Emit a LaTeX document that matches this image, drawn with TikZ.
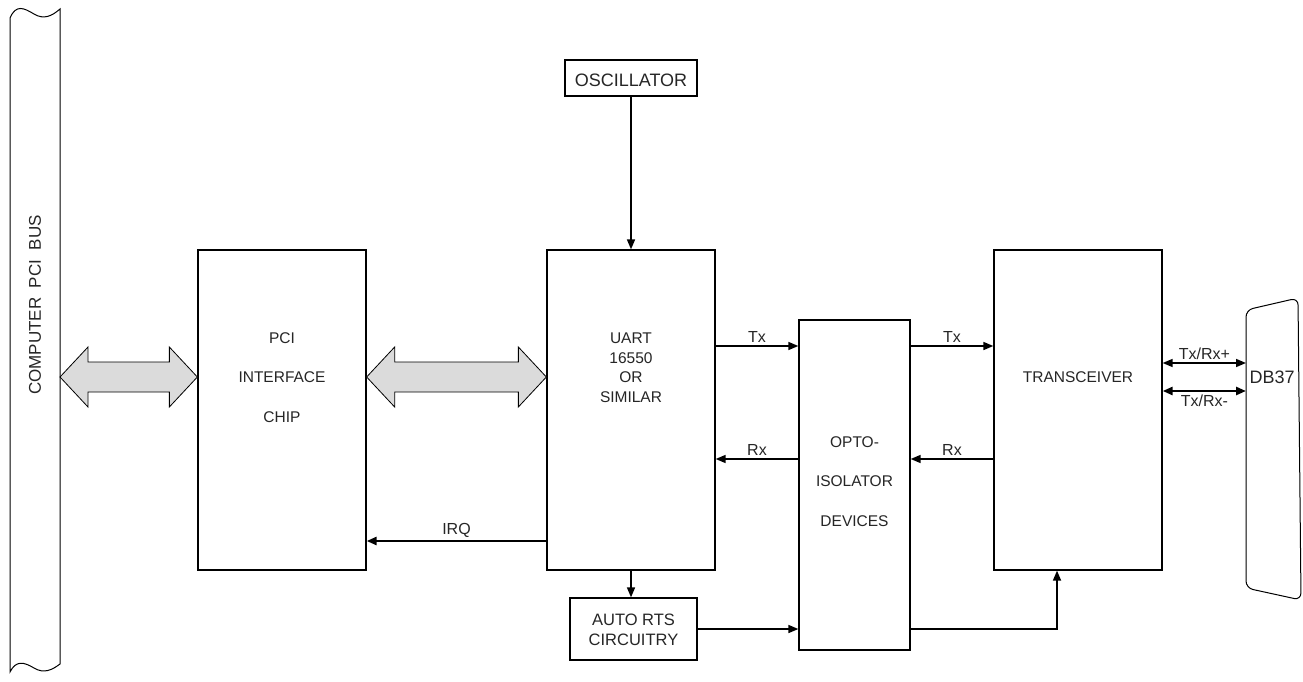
\documentclass[tikz,border=0pt]{standalone}
\usepackage{fontspec}
\setmainfont{Liberation Sans}
\usetikzlibrary{arrows.meta,calc}
\tikzset{
  box/.style={draw, line width=1.3pt, inner sep=0pt, fill=white},
  ghost/.style={inner sep=0pt, outer sep=0pt},
  txt/.style={inner sep=0pt, font=\fontsize{15.5}{18}\selectfont, text=black!85},
  bigtxt/.style={inner sep=0pt, font=\fontsize{18}{21}\selectfont, text=black!85},
  lbl/.style={inner sep=2.5pt, font=\fontsize{16}{19}\selectfont, text=black!85},
  sig/.style={line width=1.6pt, -{Triangle[length=10pt,width=8pt]}},
  sigthick/.style={line width=2.6pt, -{Triangle[length=10pt,width=8pt]}},
  bigarr/.style={draw, line width=0.8pt, fill=black!14},
}
\newcommand\bigdarrow[2]{%
  \path[bigarr] let \p1=(#1), \p2=(#2) in
    (\x1,\y1) -- (\x1+28pt,\y1+30pt) -- (\x1+28pt,\y1+15pt) -- (\x2-28pt,\y1+15pt)
    -- (\x2-28pt,\y1+30pt) -- (\x2,\y1) -- (\x2-28pt,\y1-30pt) -- (\x2-28pt,\y1-15pt)
    -- (\x1+28pt,\y1-15pt) -- (\x1+28pt,\y1-30pt) -- cycle;}
\begin{document}
\begin{tikzpicture}[x=1pt,y=-1pt]
\useasboundingbox (0,0) rectangle (1303,682);

% rows
\coordinate (row) at (0,377);
\coordinate (txrow) at (0,346);
\coordinate (rxrow) at (0,459);
\coordinate (irqrow) at (0,541);
\coordinate (rtsrow) at (0,629);
\coordinate (prow) at (0,363);
\coordinate (mrow) at (0,391);

% computer bus
\node[ghost, minimum width=50pt, minimum height=650pt] (bus) at (35,341) {};
\draw[line width=1pt] (10,18) .. controls (16,4) and (24,8) .. (34,14)
   .. controls (44,20) and (52,16) .. (60,9) -- (60,664)
   .. controls (52,670) and (44,674) .. (34,668)
   .. controls (24,662) and (16,660) .. (10,672) -- cycle;
\node[bigtxt, font=\fontsize{17}{20}\selectfont, rotate=90] (bustxt) at (35,305) {COMPUTER\ \ PCI\ \ BUS};

% blocks
\node[box, minimum width=168pt, minimum height=320pt] (pci) at (282,410) {};
\node[box, minimum width=168pt, minimum height=320pt] (uart) at (631,410) {};
\node[box, minimum width=111pt, minimum height=330pt] (opto) at (854.5,485) {};
\node[box, minimum width=168pt, minimum height=320pt] (trans) at (1078,410) {};
\node[box, minimum width=132pt, minimum height=36pt] (osc) at (631,78) {};
\node[box, minimum width=127pt, minimum height=62pt] (rts) at (633.5,629) {};

\node[txt] (pcit1) at (282,338) {PCI};
\node[txt] (pcit2) at (282,377) {INTERFACE};
\node[txt] (pcit3) at (282,417) {CHIP};
\node[txt] (uartt1) at (631,338) {UART};
\node[txt] (uartt2) at (631,358) {16550};
\node[txt] (uartt3) at (631,377) {OR};
\node[txt] (uartt4) at (631,397) {SIMILAR};
\node[txt] (optot1) at (854.5,442) {OPTO-};
\node[txt] (optot2) at (854.5,481) {ISOLATOR};
\node[txt] (optot3) at (854.5,521) {DEVICES};
\node[txt] (transt) at (1078,377) {TRANSCEIVER};
\node[bigtxt] (osct) at (631,80) {OSCILLATOR};
\node[txt, font=\fontsize{16.5}{19}\selectfont] (rtst1) at (633.5,620) {AUTO RTS};
\node[txt, font=\fontsize{16.5}{19}\selectfont] (rtst2) at (633.5,640) {CIRCUITRY};

% DB37 connector
\node[ghost, minimum width=54pt, minimum height=300pt] (db) at (1273,449) {};
\draw[line width=1pt, rounded corners=7pt] (1246,310) -- (1298,298) -- (1301,600) -- (1246,588) -- cycle;
\node[bigtxt] (dbt) at (1272,377) {DB37};

% big bus arrows
\bigdarrow{bus.east |- row}{pci.west |- row}
\bigdarrow{pci.east |- row}{uart.west |- row}

% signals
\draw[sig] (osc.south) -- (uart.north);
\draw[sig] (uart.east |- txrow) -- (opto.west |- txrow) node[lbl, midway, above] {Tx};
\draw[sig] (opto.east |- txrow) -- (trans.west |- txrow) node[lbl, midway, above] {Tx};
\draw[sig] (opto.west |- rxrow) -- (uart.east |- rxrow) node[lbl, midway, above] {Rx};
\draw[sig] (trans.west |- rxrow) -- (opto.east |- rxrow) node[lbl, midway, above] {Rx};
\draw[sigthick] (uart.west |- irqrow) -- (pci.east |- irqrow) node[lbl, midway, above] {IRQ};
\draw[sig] (uart.south) -- (uart.south |- rts.north);
\draw[sig] (rts.east) -- (opto.west |- rtsrow);
\draw[sig] (opto.east |- rtsrow) -| ([xshift=-21pt]trans.south);
\draw[line width=1.6pt, {Triangle[length=10pt,width=8pt]}-{Triangle[length=10pt,width=8pt]}]
  (trans.east |- prow) -- (db.west |- prow) node[lbl, midway, above] {Tx/Rx+};
\draw[line width=2.8pt, {Triangle[length=10pt,width=8pt]}-{Triangle[length=10pt,width=8pt]}]
  (trans.east |- mrow) -- (db.west |- mrow) node[lbl, midway, below] {Tx/Rx-};
\end{tikzpicture}
\end{document}
